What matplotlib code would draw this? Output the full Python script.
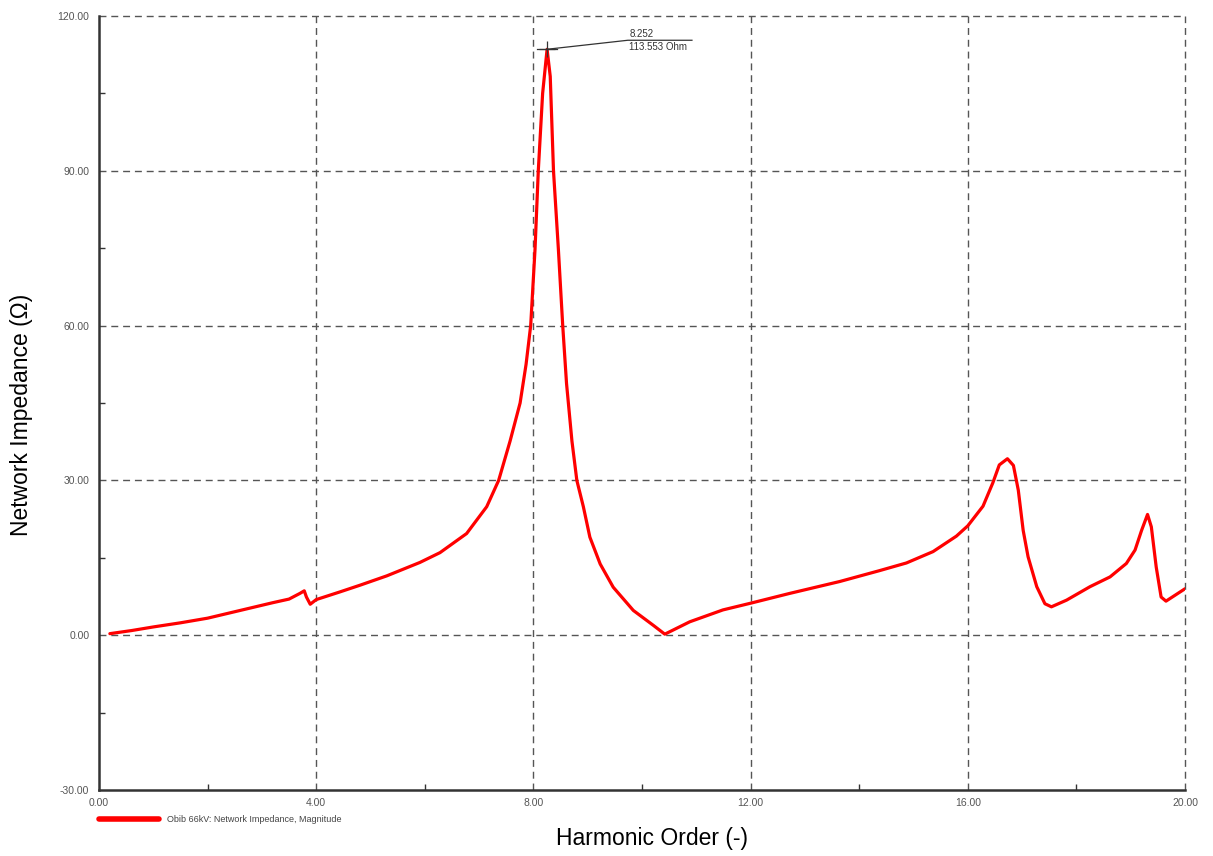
import matplotlib
matplotlib.use("Agg")
import matplotlib.pyplot as plt
from matplotlib.lines import Line2D

plt.rcParams["font.family"] = ["Liberation Sans", "DejaVu Sans"]

# Frequency sweep at the Obib 66kV busbar
harmonic_order = [
    0.20, 0.6, 1.0, 1.5, 2.0, 2.6, 3.2, 3.5, 3.70, 3.78, 3.82, 3.89, 4.0, 4.44,
    4.81, 5.3, 5.91, 6.28, 6.77, 7.14, 7.36, 7.57, 7.755, 7.865, 7.95, 8.03,
    8.09, 8.17, 8.252, 8.31, 8.37, 8.46, 8.54, 8.61, 8.71, 8.80, 8.92, 9.04,
    9.23, 9.47, 9.84, 10.21, 10.42, 10.88, 11.49, 12.0, 12.72, 13.64, 14.37,
    14.87, 15.36, 15.79, 16.0, 16.28, 16.46, 16.58, 16.73, 16.84, 16.93,
    17.02, 17.11, 17.27, 17.42, 17.54, 17.82, 18.25, 18.62, 18.92, 19.08,
    19.20, 19.31, 19.38, 19.47, 19.56, 19.65, 20.0,
]
impedance_ohm = [
    0.3, 0.9, 1.6, 2.4, 3.3, 4.8, 6.3, 7.0, 8.1, 8.6, 7.4, 6.0, 6.9, 8.4,
    9.7, 11.5, 14.1, 16.0, 19.7, 24.9, 30.0, 37.6, 45.0, 52.5, 60.0, 74.8,
    90.0, 105.0, 113.553, 108.3, 90.0, 74.8, 60.0, 48.8, 37.6, 30.0, 24.9,
    19.0, 13.8, 9.3, 4.8, 1.9, 0.2, 2.6, 4.9, 6.2, 8.1, 10.4, 12.5, 14.0,
    16.2, 19.2, 21.2, 25.0, 29.5, 33.0, 34.2, 32.9, 28.1, 20.3, 15.2, 9.4,
    6.1, 5.5, 6.8, 9.4, 11.3, 13.9, 16.5, 20.3, 23.4, 21.0, 13.2, 7.4, 6.6,
    9.0,
]

x_ticks = [0, 4, 8, 12, 16, 20]
x_minor = [2, 6, 10, 14, 18]
y_ticks = [-30, 0, 30, 60, 90, 120]
y_minor = [-15, 15, 45, 75, 105]

peak_x = 8.252
peak_y = 113.553

grid_style = dict(color="#555555", lw=1.0, linestyle=(0, (5, 3.5)))

fig = plt.figure(figsize=(12.13, 8.56), dpi=100)
ax = fig.add_axes([99 / 1213, 1 - 790 / 856, (1185 - 99) / 1213, (790 - 16) / 856])

ax.plot(harmonic_order, impedance_ohm, color="#ff0000", lw=2.3,
        solid_joinstyle="round", solid_capstyle="round", zorder=3)

ax.set_xlim(0, 20)
ax.set_ylim(-30, 120)
ax.set_xticks(x_ticks)
ax.set_xticklabels([f"{v:.2f}" for v in x_ticks])
ax.set_yticks(y_ticks)
ax.set_yticklabels([f"{v:.2f}" for v in y_ticks])
ax.set_xticks(x_minor, minor=True)
ax.set_yticks(y_minor, minor=True)

ax.tick_params(which="major", length=0, labelsize=7.5, labelcolor="#555555", pad=7)
ax.tick_params(which="minor", direction="in", length=4, width=1, color="#333333")
ax.tick_params(axis="x", which="major", pad=6)

for side in ("top", "right"):
    ax.spines[side].set_visible(False)
for side in ("left", "bottom"):
    ax.spines[side].set_color("#333333")
    ax.spines[side].set_linewidth(1.8)
    ax.spines[side].set_zorder(4)

# Dashed grid, including the outer lines along the top and right edges
for v in x_ticks[1:]:
    ax.axvline(v, zorder=1, clip_on=False, **grid_style)
for v in y_ticks[1:]:
    ax.axhline(v, zorder=1, clip_on=False, **grid_style)

# Peak marker with leader line and value readout
ax.plot([peak_x], [peak_y], marker="+", ms=12, mew=0.9, color="#333333", zorder=5)
ax.plot([8.07, 8.44], [peak_y, peak_y], color="#333333", lw=0.9, zorder=5)
ax.plot([peak_x, 9.74, 10.92], [peak_y, 115.3, 115.3], color="#333333", lw=0.9, zorder=5)
ax.text(9.78, 115.6, f"{peak_x:.3f}", fontsize=7, color="#333333", va="bottom", ha="left")
ax.text(9.76, 115.0, f"{peak_y:.3f} Ohm", fontsize=7, color="#333333", va="top", ha="left")

fig.text(652 / 1213, 1 - 838 / 856, "Harmonic Order (-)", fontsize=16.5,
         ha="center", va="center")
fig.text(22 / 1213, 1 - 415 / 856, "Network Impedance (\u03a9)", fontsize=16.5,
         ha="center", va="center", rotation=90)

# Legend entry below the axis
fig.add_artist(Line2D([99 / 1213, 159 / 1213], [1 - 819 / 856, 1 - 819 / 856],
                      color="#ff0000", lw=4, solid_capstyle="round",
                      transform=fig.transFigure))
fig.text(167 / 1213, 1 - 819 / 856, "Obib 66kV: Network Impedance, Magnitude",
         fontsize=6.5, color="#444444", ha="left", va="center")

fig.savefig("out.png", dpi=100)
